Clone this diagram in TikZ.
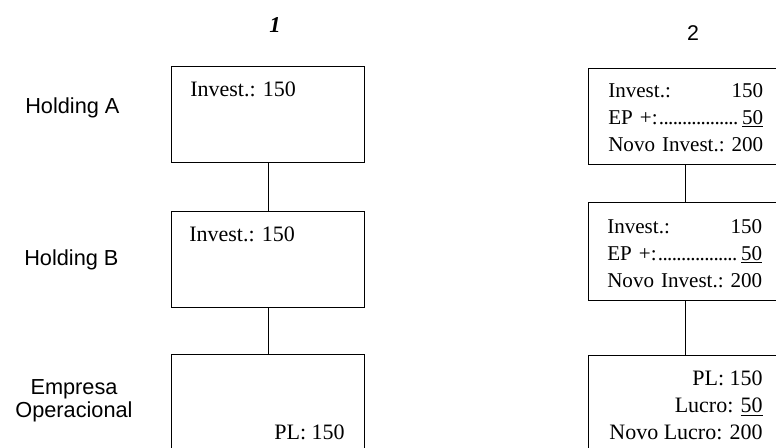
\documentclass[tikz,border=0pt]{standalone}
\usepackage{fontspec}
\setmainfont{Liberation Serif}
\newfontfamily\rotulofont{Liberation Sans}
\newcommand{\pontos}{\leaders\hbox to 0.22em{\hss.\hss}\hfill}
\begin{document}
\begin{tikzpicture}[x=0.75pt, y=-0.75pt,
    caixa/.style={draw, line width=1.1pt, minimum width=144.75pt, minimum height=72pt, anchor=north west, inner sep=0pt},
    liga/.style={line width=1.1pt},
    texto/.style={inner sep=0pt, font=\fontsize{16.5}{20.25}\selectfont},
    lista/.style={texto, anchor=north west, text width=116.25pt, align=left, font=\fontsize{15.8}{20.25}\selectfont},
    rotulo/.style={inner sep=0pt, align=center, font=\rotulofont\fontsize{16.3}{17.25}\selectfont}]
    % Frame of the picture
    \clip (0,0) rectangle (776,448);

    % Column titles
    \node[inner sep=0pt, font=\fontsize{17}{20}\selectfont\bfseries\itshape] (t1) at (275,25) {1};
    \node[inner sep=0pt, font=\rotulofont\fontsize{16}{18}\selectfont] (t2) at (693,33) {2};

    % Row labels
    \node[rotulo, anchor=west] (holdA) at (25,108) {Holding A};
    \node[rotulo, anchor=west] (holdB) at (24,260) {Holding B};
    \node[rotulo] (empresa) at (74,401) {Empresa\\Operacional};

    % Boxes, situation 1
    \node[caixa] (a1) at (171,66) {};
    \node[caixa] (b1) at (171,211) {};
    \node[caixa] (c1) at (171,354) {};
    \draw[liga] (a1) -- (b1);
    \draw[liga] (b1) -- (c1);

    % Boxes, situation 2
    \node[caixa] (a2) at (588,68) {};
    \node[caixa, minimum height=73.5pt] (b2) at (588,202) {};
    \node[caixa] (c2) at (588,355) {};
    \draw[liga] (a2) -- (b2);
    \draw[liga] (b2) -- (c2);

    % Texts, situation 1
    \node[texto, anchor=west] (ta1) at (190,89) {Invest.: 150};
    \node[texto, anchor=west] (tb1) at (189,234) {Invest.: 150};
    \node[texto, anchor=east] (tc1) at (345,432) {PL: 150};

    % Texts, situation 2
    \node[lista] (ta2) at (608,83) {%
        Invest.:\hfill 150\\
        EP +:\pontos\underline{50}\\
        Novo Invest.:\hfill 200};
    \node[lista] (tb2) at (607,219) {%
        Invest.:\hfill 150\\
        EP +:\pontos\underline{50}\\
        Novo Invest.:\hfill 200};
    \node[texto, anchor=north east, align=right] (tc2) at (763,371) {%
        PL: 150\\
        Lucro: \underline{50}\\
        Novo Lucro: 200};
\end{tikzpicture}
\end{document}
